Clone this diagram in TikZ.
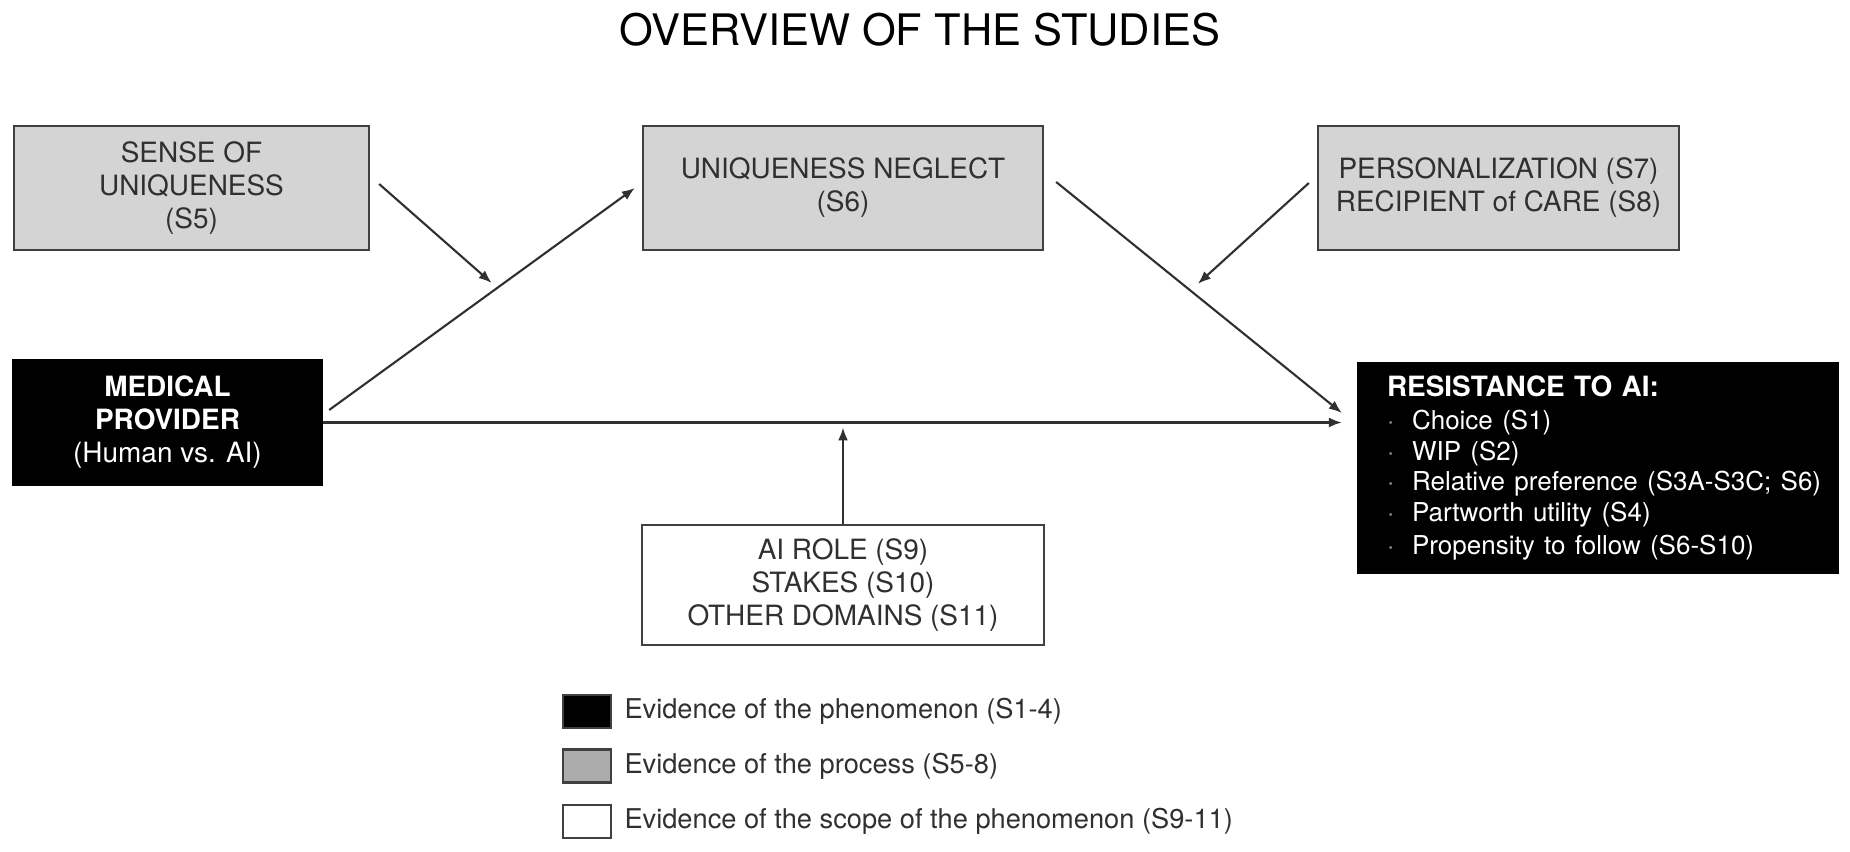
\documentclass[tikz,border=0pt]{standalone}
\usepackage{fontspec}
\setmainfont{TeX Gyre Heros}
\usetikzlibrary{arrows.meta, positioning, calc}
\definecolor{procgray}{RGB}{212, 212, 212}
\definecolor{leggray}{RGB}{172, 172, 172}
\definecolor{edgegray}{RGB}{64, 64, 64}
\definecolor{inkgray}{RGB}{48, 48, 48}
\definecolor{dotgray}{RGB}{150, 150, 150}
\newcommand{\resitem}[1]{\makebox[0.5cm][l]{\textcolor{dotgray}{·}}\mbox{#1}}

\begin{document}
\begin{tikzpicture}[
  sbox/.style={draw=edgegray, line width=1.3pt, align=center, minimum height=2.48cm, inner sep=4pt, text=inkgray, font=\fontsize{15.9}{18.8}\selectfont},
  procbox/.style={sbox, fill=procgray},
  phenbox/.style={sbox, fill=black, draw=black, text=white},
  scopebox/.style={sbox, fill=white},
  link/.style={draw=inkgray, line width=1.2pt, -{Latex[length=0.26cm, width=0.2cm]}},
  legsq/.style={draw=edgegray, line width=1.3pt, minimum width=0.96cm, minimum height=0.66cm, inner sep=0pt},
  legtext/.style={inner sep=0pt, text=inkgray, font=\fontsize{15.5}{18}\selectfont}
]
  \useasboundingbox (0,0) rectangle (37,-17.04);

  \node[font=\fontsize{24.7}{28}\selectfont] (title) at (18.4,-0.6) {OVERVIEW OF THE STUDIES};

  \node[procbox, minimum width=7.1cm] (sense) at (3.83,-3.76) {SENSE OF\\UNIQUENESS\\(S5)};
  \node[procbox, minimum width=8cm] (neglect) at (16.86,-3.76) {UNIQUENESS NEGLECT\\(S6)};
  \node[procbox, minimum width=7.22cm] (person) at (29.97,-3.76) {PERSONALIZATION (S7)\\RECIPIENT of CARE (S8)};

  \node[phenbox, minimum width=6.18cm, minimum height=2.5cm] (medical) at (3.35,-8.45) {
    \textbf{MEDICAL}\\
    \textbf{PROVIDER}\\
    (Human vs. AI)
  };
  \node[phenbox, minimum width=9.6cm, minimum height=4.2cm, text width=8.44cm, align=left, inner xsep=0.58cm] (resist) at (31.96,-9.36) {
    \textbf{RESISTANCE TO AI:}\\[1.3pt]
    \fontsize{14.8}{17.5}\selectfont
    \resitem{Choice (S1)}\\
    \resitem{WIP (S2)}\\
    \resitem{Relative preference (S3A-S3C; S6)}\\
    \resitem{Partworth utility (S4)}\\
    \resitem{Propensity to follow (S6-S10)}
  };

  \node[scopebox, minimum width=8.04cm, minimum height=2.4cm] (airole) at (16.86,-11.7) {AI ROLE (S9)\\STAKES (S10)\\OTHER DOMAINS (S11)};

  % paths of the model
  \draw[link] ([shift={(0.12,0.25)}]medical.east) -- coordinate[pos=0.55] (m1) ([xshift=-0.14cm]neglect.west);
  \draw[link] ([shift={(0.24,0.12)}]neglect.east) -- coordinate[pos=0.47] (m2) ([shift={(-0.3,1.1)}]resist.west);
  \draw[link, shorten >=0.3cm] (medical.east) -- (medical.east -| resist.west);
  \coordinate (m3) at (airole.north |- medical.east);

  % moderators
  \draw[link, shorten >=0.15cm] ([shift={(0.18,0.08)}]sense.east) -- (m1);
  \draw[link, shorten >=0.2cm] ([shift={(-0.16,0.1)}]person.west) -- (m2);
  \draw[link, shorten >=0.1cm] (airole.north) -- (m3);

  % legend
  \node[legsq, fill=black] (leg1) at (11.74,-14.23) {};
  \node[legsq, fill=leggray] (leg2) at (11.74,-15.32) {};
  \node[legsq, fill=white] (leg3) at (11.74,-16.43) {};
  \node[legtext, right=0.24cm of leg1] (legt1) {Evidence of the phenomenon (S1-4)};
  \node[legtext, right=0.24cm of leg2] (legt2) {Evidence of the process (S5-8)};
  \node[legtext, right=0.24cm of leg3] (legt3) {Evidence of the scope of the phenomenon (S9-11)};
\end{tikzpicture}
\end{document}
